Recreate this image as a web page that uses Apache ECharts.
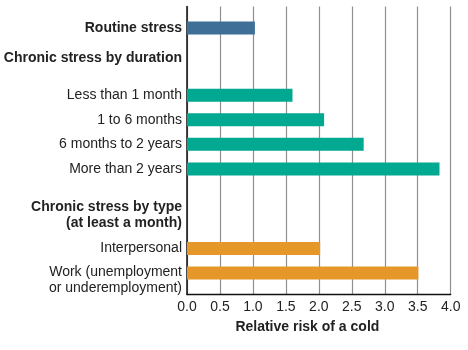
<!DOCTYPE html>
<html>
<head>
<meta charset="utf-8">
<script src="https://cdn.jsdelivr.net/npm/echarts@6/dist/echarts.min.js"></script>
<style>html,body{margin:0;padding:0;background:#fff;}#c{width:468px;height:350px;}</style>
</head>
<body>
<div id="c"></div>
<script>
// ---- data ----
const categories = ['Routine stress', 'Less than 1 month', '1 to 6 months', '6 months to 2 years', 'More than 2 years', 'Interpersonal', 'Work (unemployment\nor underemployment)'];
const values = [1.03, 1.60, 2.08, 2.68, 3.83, 2.02, 3.51];
const groups = ['routine', 'duration', 'duration', 'duration', 'duration', 'type', 'type'];
const headers = ['Chronic stress by duration', 'Chronic stress by type\n(at least a month)'];
const xTicks = ['0.0', '0.5', '1.0', '1.5', '2.0', '2.5', '3.0', '3.5', '4.0'];
const axisTitle = 'Relative risk of a cold';

// ---- layout (row slots on the category axis) ----
const SLOTS = 47;
const rowSlot = [3, 14, 18, 22, 26, 39, 43];
const headerSlot = [8, 33];
const colors = { routine: '#3f6f97', duration: '#00a98f', type: '#e5972a' };

const slotLabels = new Array(SLOTS).fill('');
const slotData = new Array(SLOTS).fill('-');
categories.forEach((c, i) => {
  const s = rowSlot[i];
  if (i === 0) slotLabels[s] = '{b|' + c + '}';
  else if (c.indexOf('\n') >= 0) {
    const parts = c.split('\n');
    slotLabels[s] = '{e14| }\n{n|' + parts[0] + '}\n{n|' + parts[1] + '}';
  } else slotLabels[s] = '{n|' + c + '}';
  slotData[s] = { value: values[i], itemStyle: { color: colors[groups[i]] } };
});
headers.forEach((h, i) => {
  const s = headerSlot[i];
  if (h.indexOf('\n') >= 0) {
    const parts = h.split('\n');
    slotLabels[s] = '{e7| }\n{b|' + parts[0] + '}\n{b|' + parts[1] + '}';
  } else slotLabels[s] = '{b|' + h + '}';
});
const slotNames = slotLabels.map((_, i) => 's' + i);

const FONT = '"Liberation Sans", Arial, Helvetica, sans-serif';
const chart = echarts.init(document.getElementById('c'), null, { renderer: 'canvas' });
chart.setOption({
  animation: false,
  backgroundColor: '#fff',
  grid: { left: 187, right: 17.3, top: 6.5, bottom: 55.5, containLabel: false },
  xAxis: {
    type: 'value', min: 0, max: 4, interval: 0.5,
    axisLine: { show: true, lineStyle: { color: '#111', width: 1.3 } },
    axisTick: { show: false },
    splitLine: { show: true, lineStyle: { color: '#8f8f8f', width: 1.2 } },
    axisLabel: {
      margin: 6, fontSize: 14, color: '#222', fontFamily: FONT,
      formatter: v => xTicks[Math.round(v / 0.5)]
    },
    name: axisTitle, nameLocation: 'middle', nameGap: 26,
    nameTextStyle: { fontSize: 14, fontWeight: 'bold', color: '#222', fontFamily: FONT, padding: [0, 23, 0, 0] }
  },
  yAxis: {
    type: 'category', inverse: true, data: slotNames,
    axisLine: { show: true, lineStyle: { color: '#111', width: 1.5 } },
    axisTick: { show: false },
    splitLine: { show: false },
    axisLabel: {
      interval: 0, margin: 5, color: '#222', fontFamily: FONT, fontSize: 14,
      formatter: (v, i) => slotLabels[i],
      rich: {
        n: { fontSize: 14, lineHeight: 16, color: '#222', fontFamily: FONT, align: 'right' },
        b: { fontSize: 14, lineHeight: 16, fontWeight: 'bold', color: '#222', fontFamily: FONT, align: 'right' },
        e7: { fontSize: 1, lineHeight: 7 },
        e14: { fontSize: 1, lineHeight: 14 }
      }
    }
  },
  series: [{
    type: 'bar', data: slotData, barWidth: 13, silent: true
  }]
});
</script>
</body>
</html>
